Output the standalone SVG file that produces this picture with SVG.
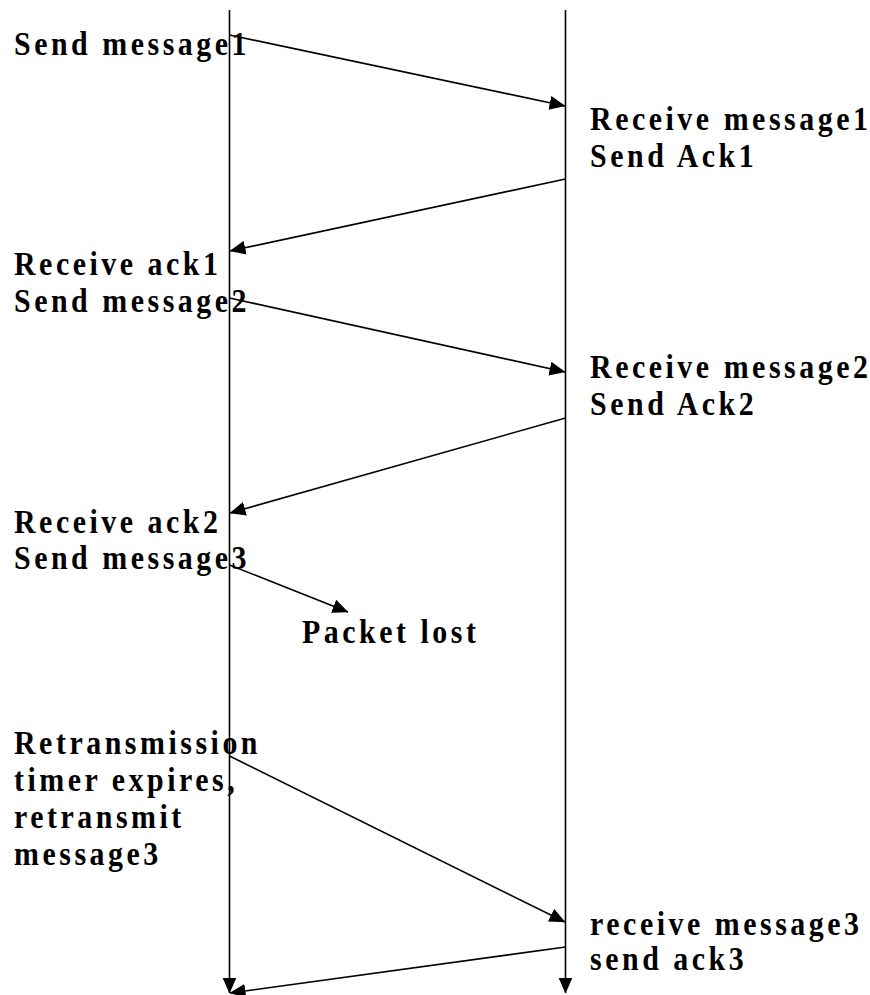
<svg xmlns="http://www.w3.org/2000/svg" width="870" height="995" viewBox="0 0 870 995">
<style>
text{font-family:"Liberation Serif","Times New Roman",serif;font-weight:bold;font-size:34px;letter-spacing:4px;fill:#000}
.c line{stroke:#000;stroke-width:1.6;fill:none}
</style>
<defs>
<marker id="ah" viewBox="0 0 16 14" refX="15.5" refY="7" markerWidth="16" markerHeight="14" markerUnits="userSpaceOnUse" orient="auto">
<path d="M0,0 L16,7 L0,14 Z" fill="#000"/>
</marker>
</defs>
<rect width="870" height="995" fill="#fff"/>
<g id="connectors" class="c">
<line id="lifeline-left" x1="229.5" y1="10" x2="229.5" y2="993" marker-end="url(#ah)"/>
<line id="lifeline-right" x1="565.5" y1="10" x2="565.5" y2="993" marker-end="url(#ah)"/>
<line x1="229.5" y1="35" x2="565" y2="106" marker-end="url(#ah)"/>
<line x1="565.5" y1="179" x2="230" y2="251" marker-end="url(#ah)"/>
<line x1="229.5" y1="298" x2="565" y2="372" marker-end="url(#ah)"/>
<line x1="565.5" y1="418" x2="230" y2="513" marker-end="url(#ah)"/>
<line x1="229.5" y1="565" x2="348" y2="612" marker-end="url(#ah)"/>
<line x1="229.5" y1="756" x2="565" y2="922" marker-end="url(#ah)"/>
<line x1="565.5" y1="947" x2="230" y2="993" marker-end="url(#ah)"/>
</g>
<g transform="scale(0.88 1)">
<g id="n-send1"><text x="15.9" y="55">Send message1</text></g>
<g id="n-recv1"><text x="670.5" y="130">Receive message1</text><text x="670.5" y="167">Send Ack1</text></g>
<g id="n-ack1"><text x="15.9" y="275">Receive ack1</text><text x="15.9" y="312">Send message2</text></g>
<g id="n-recv2"><text x="670.5" y="378">Receive message2</text><text x="670.5" y="415">Send Ack2</text></g>
<g id="n-ack2"><text x="15.9" y="533">Receive ack2</text><text x="15.9" y="569">Send message3</text></g>
<g id="n-lost"><text x="343.2" y="643">Packet lost</text></g>
<g id="n-retx"><text x="15.9" y="754">Retransmission</text><text x="15.9" y="791">timer expires,</text><text x="15.9" y="828">retransmit</text><text x="15.9" y="865">message3</text></g>
<g id="n-recv3"><text x="670.5" y="935">receive message3</text><text x="670.5" y="970">send ack3</text></g>
</g>
</svg>
